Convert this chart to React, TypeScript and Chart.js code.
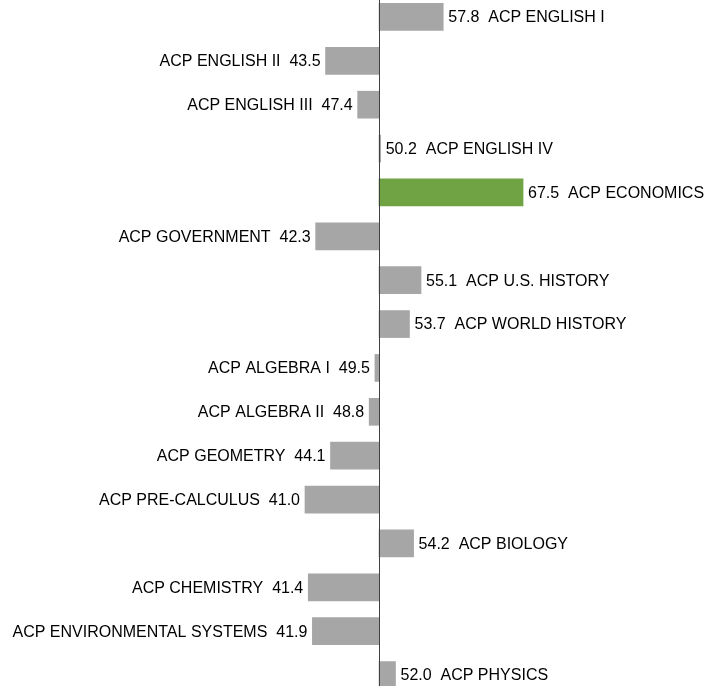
import React, { useEffect, useRef } from "react";
import { Chart, registerables } from "chart.js";

Chart.register(...registerables);

const categories = [
  "ACP ENGLISH I",
  "ACP ENGLISH II",
  "ACP ENGLISH III",
  "ACP ENGLISH IV",
  "ACP ECONOMICS",
  "ACP GOVERNMENT",
  "ACP U.S. HISTORY",
  "ACP WORLD HISTORY",
  "ACP ALGEBRA I",
  "ACP ALGEBRA II",
  "ACP GEOMETRY",
  "ACP PRE-CALCULUS",
  "ACP BIOLOGY",
  "ACP CHEMISTRY",
  "ACP ENVIRONMENTAL SYSTEMS",
  "ACP PHYSICS",
];

const values = [57.8, 43.5, 47.4, 50.2, 67.5, 42.3, 55.1, 53.7, 49.5, 48.8, 44.1, 41.0, 54.2, 41.4, 41.9, 52.0];

const baseline = 50;
const highlighted = "ACP ECONOMICS";

const GRAY = "#A6A6A6";
const GREEN = "#70A344";
const FONT = '16px "Liberation Sans", Arial, sans-serif';

const labelPlugin = {
  id: "barLabels",
  afterDatasetsDraw(chart: any) {
    const ctx = chart.ctx;
    const meta = chart.getDatasetMeta(0);
    const xs = chart.scales.x;
    ctx.save();
    ctx.font = FONT;
    ctx.fillStyle = "#000000";
    ctx.textBaseline = "middle";
    meta.data.forEach((el: any, i: number) => {
      const v = values[i];
      const end = xs.getPixelForValue(v);
      if (v >= baseline) {
        ctx.textAlign = "left";
        ctx.fillText(`${v.toFixed(1)}  ${categories[i]}`, end + 5, el.y + 1);
      } else {
        ctx.textAlign = "right";
        ctx.fillText(`${categories[i]}  ${v.toFixed(1)}`, end - 5, el.y + 1);
      }
    });
    ctx.restore();
  },
};

const axisLinePlugin = {
  id: "axisLine",
  afterDatasetsDraw(chart: any) {
    const ctx = chart.ctx;
    const x = Math.round(chart.scales.x.getPixelForValue(baseline)) + 0.5;
    ctx.save();
    ctx.strokeStyle = "#404040";
    ctx.lineWidth = 1;
    ctx.beginPath();
    ctx.moveTo(x, 0);
    ctx.lineTo(x, chart.height);
    ctx.stroke();
    ctx.restore();
  },
};

export default function App() {
  const ref = useRef<HTMLCanvasElement>(null);
  useEffect(() => {
    document.body.style.margin = "0";
    const chart = new Chart(ref.current!, {
      type: "bar",
      data: {
        labels: categories,
        datasets: [
          {
            data: values.map((v) => [baseline, v]) as any,
            backgroundColor: categories.map((c) => (c === highlighted ? GREEN : GRAY)),
            borderWidth: 0,
            barThickness: 27,
          },
        ],
      },
      options: {
        indexAxis: "y",
        animation: false,
        responsive: false,
        maintainAspectRatio: false,
        layout: { padding: 0 },
        plugins: { legend: { display: false }, tooltip: { enabled: false } },
        scales: {
          x: { type: "linear", min: 3.94, max: 89.61, display: false },
          y: { display: false, offset: true },
        },
      },
      plugins: [axisLinePlugin, labelPlugin],
    });
    return () => chart.destroy();
  }, []);
  return (
    <div style={{ position: "relative", width: 705, height: 686, overflow: "hidden" }}>
      <canvas ref={ref} width={705} height={702} style={{ position: "absolute", left: 0, top: -5 }} />
    </div>
  );
}
